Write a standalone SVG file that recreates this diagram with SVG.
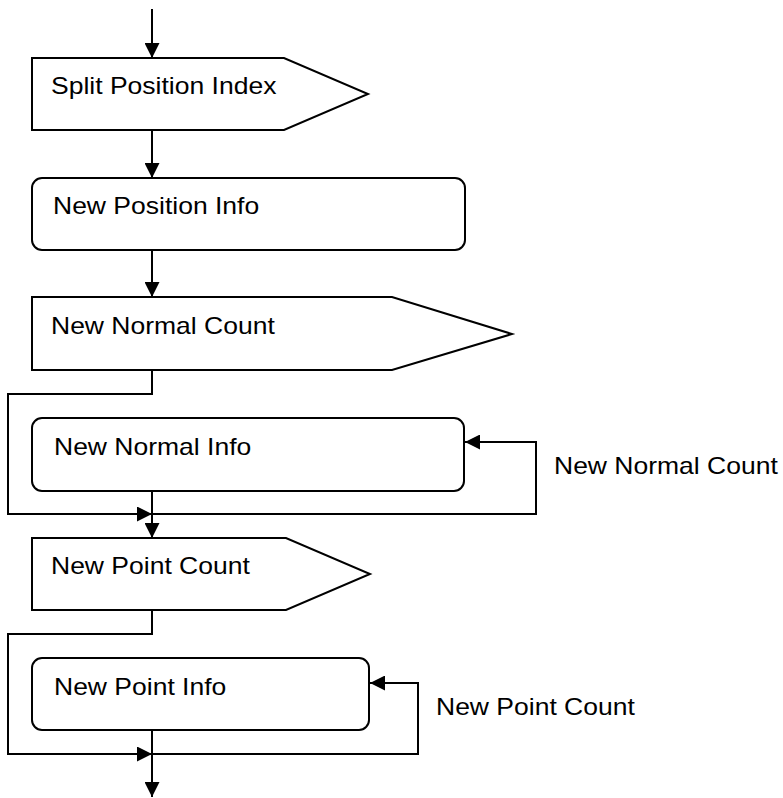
<svg xmlns="http://www.w3.org/2000/svg" width="783" height="798" viewBox="0 0 783 798">
<style>
.box{fill:#fff;stroke:#000;stroke-width:2}
.lbl{font-family:"Liberation Sans",Arial,sans-serif;font-size:24px;fill:#000}
.conn{fill:none;stroke:#000;stroke-width:2}
</style>
<defs>
<marker id="arr" markerUnits="userSpaceOnUse" markerWidth="15" markerHeight="15" refX="15" refY="7.5" orient="auto">
<path d="M0,0 L15,7.5 L0,15 z" fill="#000"/>
</marker>
</defs>
<rect width="783" height="798" fill="#fff"/>
<g id="connectors">
<path class="conn" d="M152,9 V58" marker-end="url(#arr)"/>
<path class="conn" d="M152,130 V178" marker-end="url(#arr)"/>
<path class="conn" d="M152,250 V297" marker-end="url(#arr)"/>
<path class="conn" d="M152,370 V394 H8 V514 H152" marker-end="url(#arr)"/>
<path class="conn" d="M152,514 H536 V442 H465" marker-end="url(#arr)"/>
<path class="conn" d="M152,491 V538" marker-end="url(#arr)"/>
<path class="conn" d="M152,610 V634 H8 V754 H152" marker-end="url(#arr)"/>
<path class="conn" d="M152,754 H418 V683 H370" marker-end="url(#arr)"/>
<path class="conn" d="M152,730 V797" marker-end="url(#arr)"/>
<text class="lbl" x="554" y="474" textLength="223.8" lengthAdjust="spacingAndGlyphs">New Normal Count</text>
<text class="lbl" x="436" y="715" textLength="198.8" lengthAdjust="spacingAndGlyphs">New Point Count</text>
</g>
<g id="split-position-index">
<polygon class="box" points="32,58 284,58 368,94 284,130 32,130"/>
<text class="lbl" x="51" y="94" textLength="225.4" lengthAdjust="spacingAndGlyphs">Split Position Index</text>
</g>
<g id="new-position-info">
<rect class="box" x="32" y="178" width="433" height="72" rx="10"/>
<text class="lbl" x="53" y="214" textLength="206.2" lengthAdjust="spacingAndGlyphs">New Position Info</text>
</g>
<g id="new-normal-count">
<polygon class="box" points="32,297 392,297 512,334 392,370 32,370"/>
<text class="lbl" x="51" y="334" textLength="223.8" lengthAdjust="spacingAndGlyphs">New Normal Count</text>
</g>
<g id="new-normal-info">
<rect class="box" x="32" y="418" width="432" height="73" rx="10"/>
<text class="lbl" x="54" y="455" textLength="197.3" lengthAdjust="spacingAndGlyphs">New Normal Info</text>
</g>
<g id="new-point-count">
<polygon class="box" points="32,538 286,538 370,574 286,610 32,610"/>
<text class="lbl" x="51" y="574" textLength="198.8" lengthAdjust="spacingAndGlyphs">New Point Count</text>
</g>
<g id="new-point-info">
<rect class="box" x="32" y="658" width="337" height="72" rx="10"/>
<text class="lbl" x="54" y="695" textLength="172.3" lengthAdjust="spacingAndGlyphs">New Point Info</text>
</g>
</svg>
